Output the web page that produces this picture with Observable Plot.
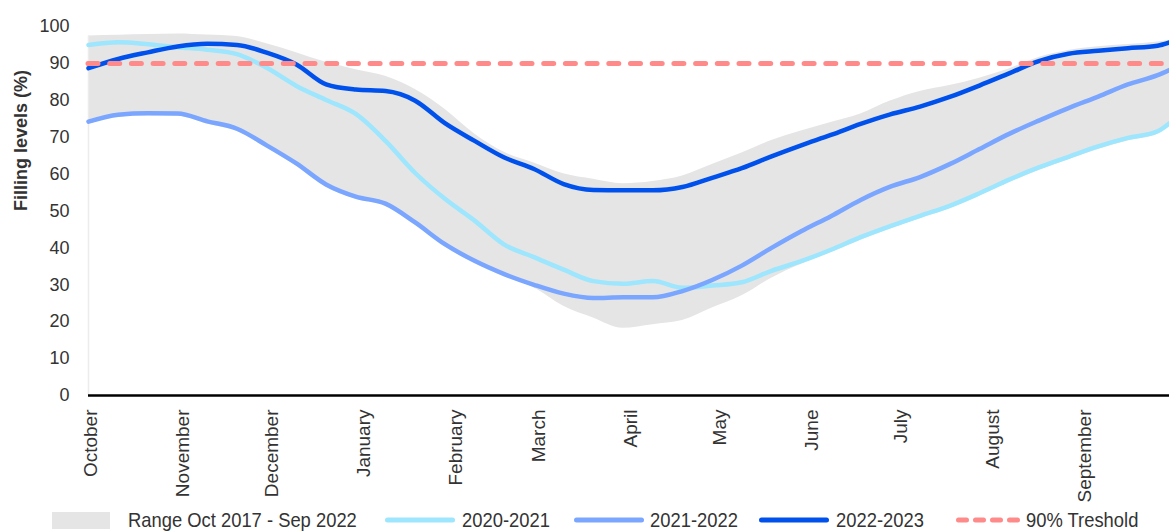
<!DOCTYPE html>
<html>
<head>
<meta charset="utf-8">
<script src="https://cdn.jsdelivr.net/npm/d3@7"></script>
<script src="https://cdn.jsdelivr.net/npm/@observablehq/plot@0.6"></script>
<style>
  html, body { margin: 0; padding: 0; background: #fff; overflow: hidden; }
  #wrap { position: relative; width: 1169px; height: 532px; }
  #legend {
    position: absolute; left: 52px; top: 510px; height: 20px;
    display: flex; align-items: center; white-space: nowrap;
    font-family: "Liberation Sans", Arial, sans-serif;
    font-size: 21px; line-height: 20px; color: #333;
  }
  .item { display: flex; align-items: center; }
  .sw { display: block; }
  .lab { display: inline-block; transform-origin: 0 50%; }
</style>
</head>
<body>
<div id="wrap">
  <div id="chart"></div>
  <div id="legend"></div>
</div>
<script>
// Day offsets from 1 October
const days = [0,10,20,30,40,50,60,70,80,90,100,110,120,130,140,150,160,170,180,190,200,210,220,230,240,250,260,270,280,290,300,310,320,330,340,350,360,364];

// Range Oct 2017 - Sep 2022 (min / max)
const rangeLow  = [73.5,75.4,75.8,75.7,73.6,71.6,67.1,62.2,56.5,53.2,51.3,46.2,40.3,35.8,32.2,29.2,24.2,21.0,18.2,19.2,20.3,23.7,27.0,31.8,35.6,38.7,42.1,45.1,47.9,50.6,54.0,57.7,61.0,63.9,66.7,69.0,70.8,73.0];
const rangeHigh = [97.4,97.6,97.8,98.0,97.7,97.3,95.3,92.9,90.3,88.3,86.5,82.9,77.6,70.9,65.9,63.0,60.1,58.6,57.4,58.0,59.5,62.6,65.7,69.1,71.7,74.0,76.3,79.8,82.4,84.0,86.0,88.5,91.6,93.5,94.5,95.1,95.8,96.2];

// Seasons
const s2020 = [95.0,95.7,95.2,94.4,93.7,92.5,88.8,83.9,80.1,76.3,69.0,60.3,53.3,47.4,40.9,37.5,34.1,31.0,30.3,31.0,29.2,29.8,30.7,33.8,36.4,39.5,42.9,45.9,48.7,51.4,54.8,58.5,61.8,64.7,67.5,69.8,71.6,73.8];
const s2021 = [74.2,76.1,76.5,76.4,74.3,72.3,67.8,62.9,57.2,53.9,52.0,46.9,41.0,36.5,32.9,30.0,27.6,26.4,26.6,26.6,28.3,31.3,35.2,40.0,44.5,48.6,53.0,56.6,59.2,62.7,66.8,70.9,74.5,77.9,81.0,84.3,86.8,88.2];
const s2022 = [88.7,91.2,93.0,94.6,95.3,95.0,92.9,89.7,84.3,82.9,82.5,79.9,73.8,69.0,64.5,61.4,57.3,55.7,55.6,55.6,56.5,59.0,61.6,64.8,67.8,70.6,73.6,76.2,78.3,80.9,84.0,87.3,90.6,92.6,93.4,94.1,94.8,95.7];

const threshold = 90;
const yTicks = [0,10,20,30,40,50,60,70,80,90,100];
const monthNames = ["October","November","December","January","February","March","April","May","June","July","August","September"];
const seriesNames = ["2020-2021","2021-2022","2022-2023"];
const rangeName = "Range Oct 2017 - Sep 2022";
const thresholdName = "90% Treshold";
const yLabel = "Filling levels (%)";

const colors = { range: "#e5e5e5", s2020: "#9de6fd", s2021: "#7aa6ff", s2022: "#0051ec", thr: "#ff8a8a" };

const day0 = Date.UTC(2022, 9, 1);
const toDate = d => new Date(day0 + d * 864e5);
const start = toDate(0), end = toDate(364);

const band = days.map((d, i) => ({ date: toDate(d), lo: rangeLow[i], hi: rangeHigh[i] }));
const mk = arr => days.map((d, i) => ({ date: toDate(d), v: arr[i] }));
const monthStarts = monthNames.map((m, i) => new Date(Date.UTC(2022, 9 + i, 1)));
const monthMap = new Map(monthStarts.map((d, i) => [+d, monthNames[i]]));

const chart = Plot.plot({
  width: 1169, height: 505,
  marginLeft: 88, marginRight: 0, marginTop: 26, marginBottom: 110,
  style: { fontFamily: "'Liberation Sans', Arial, sans-serif", color: "#333", background: "#fff" },
  x: { type: "utc", domain: [start, end] },
  y: { domain: [0, 100] },
  marks: [
    Plot.areaY(band, { x: "date", y1: "lo", y2: "hi", fill: colors.range, curve: "monotone-x" }),
    Plot.ruleX([start], { y1: 0, y2: rangeHigh[0], stroke: "#ececec", strokeWidth: 1.5 }),
    Plot.lineY(mk(s2020), { x: "date", y: "v", stroke: colors.s2020, strokeWidth: 4.5, curve: "monotone-x" }),
    Plot.lineY(mk(s2021), { x: "date", y: "v", stroke: colors.s2021, strokeWidth: 4.5, curve: "monotone-x" }),
    Plot.lineY(mk(s2022), { x: "date", y: "v", stroke: colors.s2022, strokeWidth: 4.5, curve: "monotone-x" }),
    Plot.ruleY([threshold], { stroke: colors.thr, strokeWidth: 5, strokeDasharray: "10,11.7", strokeLinecap: "round" }),
    Plot.ruleY([0], { stroke: "#000", strokeWidth: 2.5 }),
    Plot.axisY({ ticks: yTicks, tickSize: 0, tickPadding: 19, fontSize: 18, label: null, fill: "#333" }),
    Plot.axisX({ ticks: monthStarts, tickFormat: d => monthMap.get(+d), tickRotate: -90, tickSize: 0, tickPadding: 14, dx: 2, fontSize: 19, label: null, fill: "#333" }),
    Plot.text([yLabel], { frameAnchor: "left", dx: -67, rotate: -90, fontSize: 18, fontWeight: "bold", fill: "#333" })
  ]
});
document.getElementById("chart").appendChild(chart);

// Legend (narrow-looking text: horizontally condensed)
const legend = document.getElementById("legend");
const SQUEEZE = 0.875;
function addItem(swatchHTML, swGap, label, after) {
  const it = document.createElement("div");
  it.className = "item";
  it.style.marginRight = after + "px";
  it.innerHTML = swatchHTML;
  it.firstElementChild.style.marginRight = swGap + "px";
  const box = document.createElement("span");
  box.style.display = "inline-block";
  box.style.overflow = "visible";
  const lab = document.createElement("span");
  lab.className = "lab";
  lab.textContent = label;
  box.appendChild(lab);
  it.appendChild(box);
  legend.appendChild(it);
  const w = lab.getBoundingClientRect().width;
  lab.style.transform = `scaleX(${SQUEEZE})`;
  box.style.width = (w * SQUEEZE) + "px";
}
const lineSw = c => `<svg class="sw" width="70" height="8"><line x1="2.5" x2="67.5" y1="4" y2="4" stroke="${c}" stroke-width="5" stroke-linecap="round"/></svg>`;
addItem(`<svg class="sw" width="58" height="17"><rect width="58" height="17" fill="${colors.range}"/></svg>`, 18, rangeName, 28);
addItem(lineSw(colors.s2020), 7, seriesNames[0], 24);
addItem(lineSw(colors.s2021), 6, seriesNames[1], 21);
addItem(lineSw(colors.s2022), 7, seriesNames[2], 33);
addItem(`<svg class="sw" width="65" height="8"><line x1="2.5" x2="62.5" y1="4" y2="4" stroke="${colors.thr}" stroke-width="5" stroke-linecap="round" stroke-dasharray="8,9"/></svg>`, 5, thresholdName, 0);
</script>
</body>
</html>
